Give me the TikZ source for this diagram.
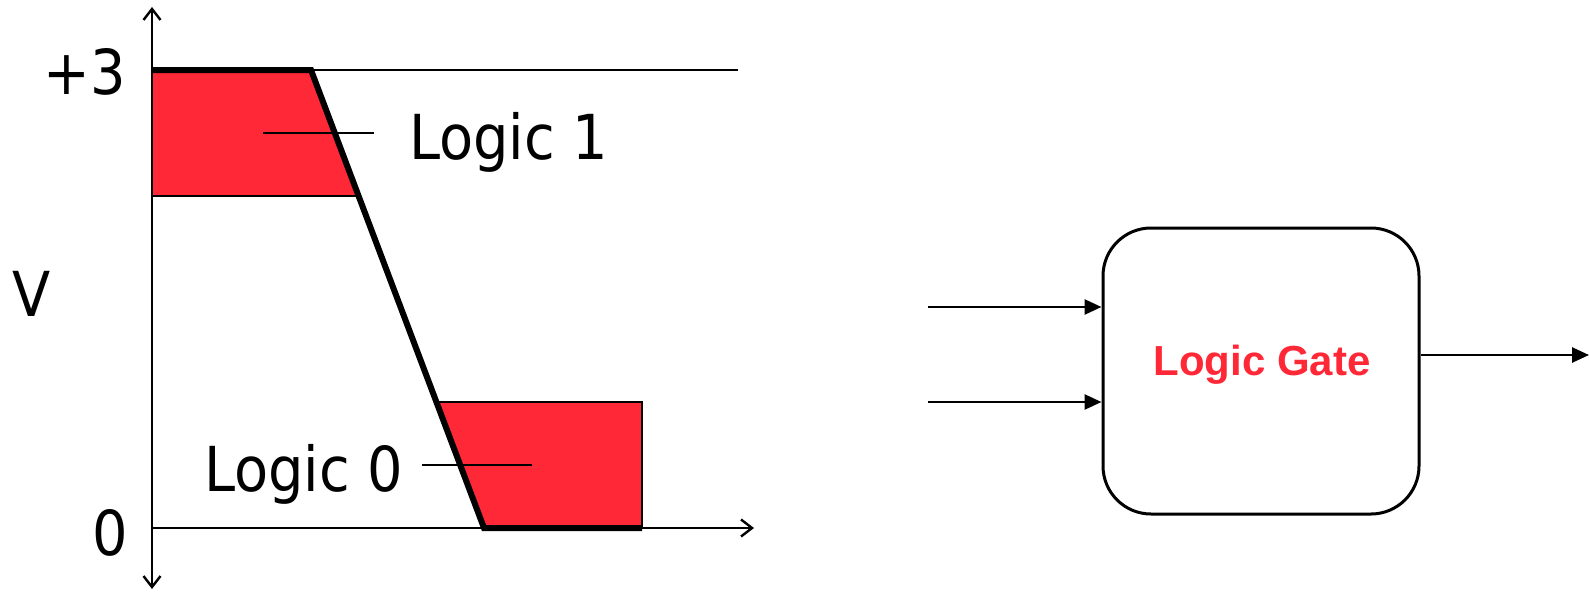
\documentclass[tikz,border=0pt]{standalone}
\usepackage{fontspec}
\setmainfont{DejaVu Sans Condensed}
\newfontfamily\gatefont{Liberation Sans}
\usetikzlibrary{arrows.meta}
\definecolor{zonered}{RGB}{255,40,55}
\tikzset{
  axis/.style={line width=2.4pt,-{Straight Barb[length=11pt,width=17pt,line width=2.4pt]}},
  thin/.style={line width=2.4pt},
  thick/.style={line width=6pt,line cap=butt},
  lbl/.style={inner sep=0pt,font=\fontsize{62}{62}\selectfont},
  gatebox/.style={draw,line width=3pt,rounded corners=48pt,minimum width=316pt,minimum height=286pt,inner sep=0pt},
  wire/.style={line width=2.6pt,-{Triangle[length=17pt,width=15pt]}}
}
\begin{document}
\begin{tikzpicture}[x=1pt,y=-1pt]
\useasboundingbox (0,0) rectangle (1589,592);
% red zones
\fill[zonered] (152,70) -- (311,70) -- (358.7,196) -- (152,196) -- cycle;
\fill[zonered] (436.6,402) -- (642,402) -- (642,528) -- (484,528) -- cycle;
% coordinates
\coordinate (origin) at (152,528);
\coordinate (ytop) at (152,7);
\coordinate (ybot) at (152,589);
\coordinate (xend) at (754,528);
\coordinate (hiL) at (152,70);
\coordinate (hiK) at (311,70);
\coordinate (hiR) at (738,70);
\coordinate (loK) at (484,528);
\coordinate (loR) at (642,528);
\coordinate (midL) at (152,196);
\coordinate (midR) at (358.7,196);
\coordinate (boxTL) at (436.6,402);
\coordinate (boxTR) at (642,402);
% axes
\draw[axis] (origin) -- (ytop);
\draw[axis] (152,460) -- (ybot);
\draw[axis] (origin) -- (xend);
% thin lines
\draw[thin] (hiK) -- (hiR);
\draw[thin] (midL) -- (midR);
\draw[thin] (boxTL) -- (boxTR) -- (loR);
% thick transfer curve
\draw[thick,line join=miter] (hiL) -- (hiK) -- (loK) -- (loR);
% labels
\node[lbl,anchor=east] (plus3) at (126,72) {+3};
\node[lbl] (vlab) at (32,294) {V};
\node[lbl] (zero) at (110,533) {0};
\node[lbl,anchor=base west] (logic1) at (409,159) {Logic 1};
\node[lbl,anchor=base west] (logic0) at (204,491) {Logic 0};
\coordinate (l1a) at (263,133);
\coordinate (l1b) at (374,133);
\coordinate (l0a) at (422,465);
\coordinate (l0b) at (532,465);
\draw[thin] (l1a) -- (l1b);
\draw[thin] (l0a) -- (l0b);
% logic gate
\node[gatebox] (gate) at (1261,371) {};
\node[inner sep=0pt,text=zonered,font=\gatefont\bfseries\fontsize{42}{42}\selectfont] (gatetxt) at (1262,365) {Logic Gate};
\coordinate (in1) at (928,307);
\coordinate (in2) at (928,402);
\coordinate (outend) at (1589,355);
\draw[wire] (in1) -- (in1 -| gate.west);
\draw[wire] (in2) -- (in2 -| gate.west);
\draw[wire] (outend -| gate.east) -- (outend);
\end{tikzpicture}
\end{document}
